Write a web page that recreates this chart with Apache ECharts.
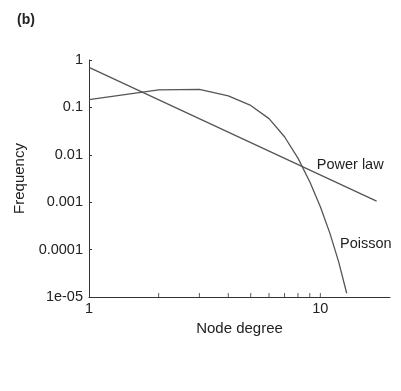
<!DOCTYPE html>
<html>
<head>
<meta charset="utf-8">
<script src="https://cdn.jsdelivr.net/npm/echarts@6/dist/echarts.min.js"></script>
<style>
  html, body { margin: 0; padding: 0; background: #fff; }
  #chart { width: 401px; height: 391px; }
</style>
</head>
<body>
<div id="chart"></div>
<script>
// node degree k and frequency
const poissonK = [1, 2, 3, 4, 5, 6, 7, 8, 9, 10, 11, 12, 13];
const poissonFreq = [0.146, 0.235, 0.24, 0.175, 0.11, 0.058, 0.024, 0.0085, 0.0027, 0.0008, 0.00022, 0.000055, 0.000012];
const powerK = [1, 17.5];
const powerFreq = [0.7, 0.00105];

const xTickValues = [2, 3, 4, 5, 6, 7, 8, 9, 10];
const xLabelValues = [1, 10];
const yTickLabels = ['1e-05', '0.0001', '0.001', '0.01', '0.1', '1'];

const FONT = 'Liberation Sans, Arial, sans-serif';
const INK = '#222';
const LINE = '#555';
const AXIS = '#333';

const chart = echarts.init(document.getElementById('chart'));

const pairs = (xs, ys) => xs.map((x, i) => [x, ys[i]]);

// text tag placed at a data coordinate, drawn with an invisible symbol
const tag = (text, coord) => ({
  symbol: 'circle',
  symbolSize: 1,
  itemStyle: { color: 'rgba(0,0,0,0)' },
  silent: true,
  label: { show: true, position: 'right', distance: 0, formatter: text, fontFamily: FONT, fontSize: 14.5, color: INK },
  data: [{ coord: coord }]
});

chart.setOption({
  animation: false,
  title: {
    text: '(b)',
    left: 12,
    top: 8,
    textStyle: { fontFamily: FONT, fontSize: 14, fontWeight: 'bold', color: INK }
  },
  grid: { left: 89, right: 11, top: 60, bottom: 94 },
  xAxis: {
    type: 'log',
    logBase: 10,
    min: 1,
    max: 20,
    name: 'Node degree',
    nameLocation: 'middle',
    nameGap: 19,
    nameTextStyle: { fontFamily: FONT, fontSize: 15, color: INK },
    axisLine: { lineStyle: { color: AXIS, width: 1 } },
    axisTick: { show: false },
    axisLabel: {
      customValues: xLabelValues,
      margin: 4,
      fontFamily: FONT,
      fontSize: 14.5,
      color: INK
    },
    splitLine: { show: false }
  },
  yAxis: {
    type: 'log',
    logBase: 10,
    min: 0.00001,
    max: 1,
    name: 'Frequency',
    nameLocation: 'middle',
    nameGap: 55,
    nameRotate: 90,
    nameTextStyle: { fontFamily: FONT, fontSize: 15, color: INK },
    axisLine: { show: true, lineStyle: { color: AXIS, width: 1 } },
    axisTick: { show: true, inside: true, length: 3, lineStyle: { color: AXIS, width: 1 } },
    axisLabel: {
      margin: 6,
      fontFamily: FONT,
      fontSize: 14.5,
      color: INK,
      formatter: v => yTickLabels[Math.round(Math.log10(v)) + 5]
    },
    splitLine: { show: false }
  },
  series: [
    {
      // x-axis ticks at every integer degree, pointing up from the axis
      name: 'ticks',
      type: 'scatter',
      data: xTickValues.map(k => [k, 0.00001]),
      symbol: 'rect',
      symbolSize: [1, 4],
      symbolOffset: [0, -2],
      itemStyle: { color: AXIS },
      clip: false,
      silent: true,
      z: 1
    },
    {
      name: 'Power law',
      type: 'line',
      data: pairs(powerK, powerFreq),
      showSymbol: false,
      lineStyle: { color: LINE, width: 1.3 },
      markPoint: tag('Power law', [9.6, 0.0062])
    },
    {
      name: 'Poisson',
      type: 'line',
      data: pairs(poissonK, poissonFreq),
      showSymbol: false,
      lineStyle: { color: LINE, width: 1.3 },
      markPoint: tag('Poisson', [12.1, 0.000134])
    }
  ]
});
</script>
</body>
</html>
